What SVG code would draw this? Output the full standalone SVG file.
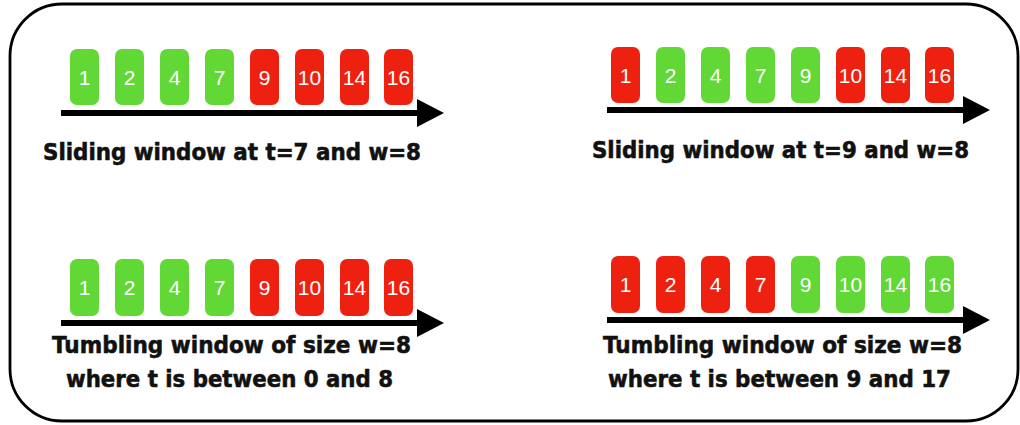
<svg xmlns="http://www.w3.org/2000/svg" width="1020" height="425" viewBox="0 0 1020 425">
<style>
.g{fill:#62d837}
.r{fill:#ee2111}
.n{font-family:"Liberation Sans",Arial,sans-serif;font-size:21px;fill:#fff;text-anchor:middle}
.lbl{font-family:"DejaVu Sans","Liberation Sans",sans-serif;font-weight:bold;font-size:23px;fill:#111;stroke:#111;stroke-width:0.6}
.ax{stroke:#000;stroke-width:6;fill:none}
</style>
<rect x="10" y="4" width="1008" height="417" rx="52" fill="#fff" stroke="#000" stroke-width="2.8"/>

<g id="panel-tl">
<g id="tl-1"><rect class="g" x="70" y="49" width="29" height="56" rx="7"/><text class="n" x="84.5" y="84.5">1</text></g>
<g id="tl-2"><rect class="g" x="115" y="49" width="29" height="56" rx="7"/><text class="n" x="129.5" y="84.5">2</text></g>
<g id="tl-4"><rect class="g" x="160" y="49" width="29" height="56" rx="7"/><text class="n" x="174.5" y="84.5">4</text></g>
<g id="tl-7"><rect class="g" x="205" y="49" width="29" height="56" rx="7"/><text class="n" x="219.5" y="84.5">7</text></g>
<g id="tl-9"><rect class="r" x="250" y="49" width="29" height="56" rx="7"/><text class="n" x="264.5" y="84.5">9</text></g>
<g id="tl-10"><rect class="r" x="295" y="49" width="29" height="56" rx="7"/><text class="n" x="309.5" y="84.5">10</text></g>
<g id="tl-14"><rect class="r" x="340" y="49" width="29" height="56" rx="7"/><text class="n" x="354.5" y="84.5">14</text></g>
<g id="tl-16"><rect class="r" x="384" y="49" width="29" height="56" rx="7"/><text class="n" x="398.5" y="84.5">16</text></g>
<text class="lbl" x="43" y="160" textLength="378" lengthAdjust="spacingAndGlyphs">Sliding window at t=7 and w=8</text>
</g>

<g id="panel-tr">
<g id="tr-1"><rect class="r" x="611" y="47" width="29" height="56" rx="7"/><text class="n" x="625.5" y="82.5">1</text></g>
<g id="tr-2"><rect class="g" x="656" y="47" width="29" height="56" rx="7"/><text class="n" x="670.5" y="82.5">2</text></g>
<g id="tr-4"><rect class="g" x="701" y="47" width="29" height="56" rx="7"/><text class="n" x="715.5" y="82.5">4</text></g>
<g id="tr-7"><rect class="g" x="746" y="47" width="29" height="56" rx="7"/><text class="n" x="760.5" y="82.5">7</text></g>
<g id="tr-9"><rect class="g" x="791" y="47" width="29" height="56" rx="7"/><text class="n" x="805.5" y="82.5">9</text></g>
<g id="tr-10"><rect class="r" x="836" y="47" width="29" height="56" rx="7"/><text class="n" x="850.5" y="82.5">10</text></g>
<g id="tr-14"><rect class="r" x="881" y="47" width="29" height="56" rx="7"/><text class="n" x="895.5" y="82.5">14</text></g>
<g id="tr-16"><rect class="r" x="925" y="47" width="29" height="56" rx="7"/><text class="n" x="939.5" y="82.5">16</text></g>
<text class="lbl" x="592" y="158" textLength="377" lengthAdjust="spacingAndGlyphs">Sliding window at t=9 and w=8</text>
</g>

<g id="panel-bl">
<g id="bl-1"><rect class="g" x="70" y="259" width="29" height="57" rx="7"/><text class="n" x="84.5" y="295">1</text></g>
<g id="bl-2"><rect class="g" x="115" y="259" width="29" height="57" rx="7"/><text class="n" x="129.5" y="295">2</text></g>
<g id="bl-4"><rect class="g" x="160" y="259" width="29" height="57" rx="7"/><text class="n" x="174.5" y="295">4</text></g>
<g id="bl-7"><rect class="g" x="205" y="259" width="29" height="57" rx="7"/><text class="n" x="219.5" y="295">7</text></g>
<g id="bl-9"><rect class="r" x="250" y="259" width="29" height="57" rx="7"/><text class="n" x="264.5" y="295">9</text></g>
<g id="bl-10"><rect class="r" x="295" y="259" width="29" height="57" rx="7"/><text class="n" x="309.5" y="295">10</text></g>
<g id="bl-14"><rect class="r" x="340" y="259" width="29" height="57" rx="7"/><text class="n" x="354.5" y="295">14</text></g>
<g id="bl-16"><rect class="r" x="384" y="259" width="29" height="57" rx="7"/><text class="n" x="398.5" y="295">16</text></g>
<text class="lbl" x="52" y="353" textLength="359" lengthAdjust="spacingAndGlyphs">Tumbling window of size w=8</text>
<text class="lbl" x="66" y="387" textLength="327" lengthAdjust="spacingAndGlyphs">where t is between 0 and 8</text>
</g>

<g id="panel-br">
<g id="br-1"><rect class="r" x="611" y="256" width="29" height="57" rx="7"/><text class="n" x="625.5" y="292">1</text></g>
<g id="br-2"><rect class="r" x="656" y="256" width="29" height="57" rx="7"/><text class="n" x="670.5" y="292">2</text></g>
<g id="br-4"><rect class="r" x="701" y="256" width="29" height="57" rx="7"/><text class="n" x="715.5" y="292">4</text></g>
<g id="br-7"><rect class="r" x="746" y="256" width="29" height="57" rx="7"/><text class="n" x="760.5" y="292">7</text></g>
<g id="br-9"><rect class="g" x="791" y="256" width="29" height="57" rx="7"/><text class="n" x="805.5" y="292">9</text></g>
<g id="br-10"><rect class="g" x="836" y="256" width="29" height="57" rx="7"/><text class="n" x="850.5" y="292">10</text></g>
<g id="br-14"><rect class="g" x="881" y="256" width="29" height="57" rx="7"/><text class="n" x="895.5" y="292">14</text></g>
<g id="br-16"><rect class="g" x="925" y="256" width="29" height="57" rx="7"/><text class="n" x="939.5" y="292">16</text></g>
<text class="lbl" x="603" y="353" textLength="359" lengthAdjust="spacingAndGlyphs">Tumbling window of size w=8</text>
<text class="lbl" x="608" y="387" textLength="343" lengthAdjust="spacingAndGlyphs">where t is between 9 and 17</text>
</g>

<g id="connectors">
<line class="ax" x1="61" y1="113" x2="418" y2="113"/><polygon points="417,99 444,113 417,127" fill="#000"/>
<line class="ax" x1="607" y1="110" x2="964" y2="110"/><polygon points="963,96 990,110 963,124" fill="#000"/>
<line class="ax" x1="61" y1="323" x2="418" y2="323"/><polygon points="417,309 444,323 417,337" fill="#000"/>
<line class="ax" x1="607" y1="320" x2="964" y2="320"/><polygon points="963,306 990,320 963,334" fill="#000"/>
</g>
</svg>
